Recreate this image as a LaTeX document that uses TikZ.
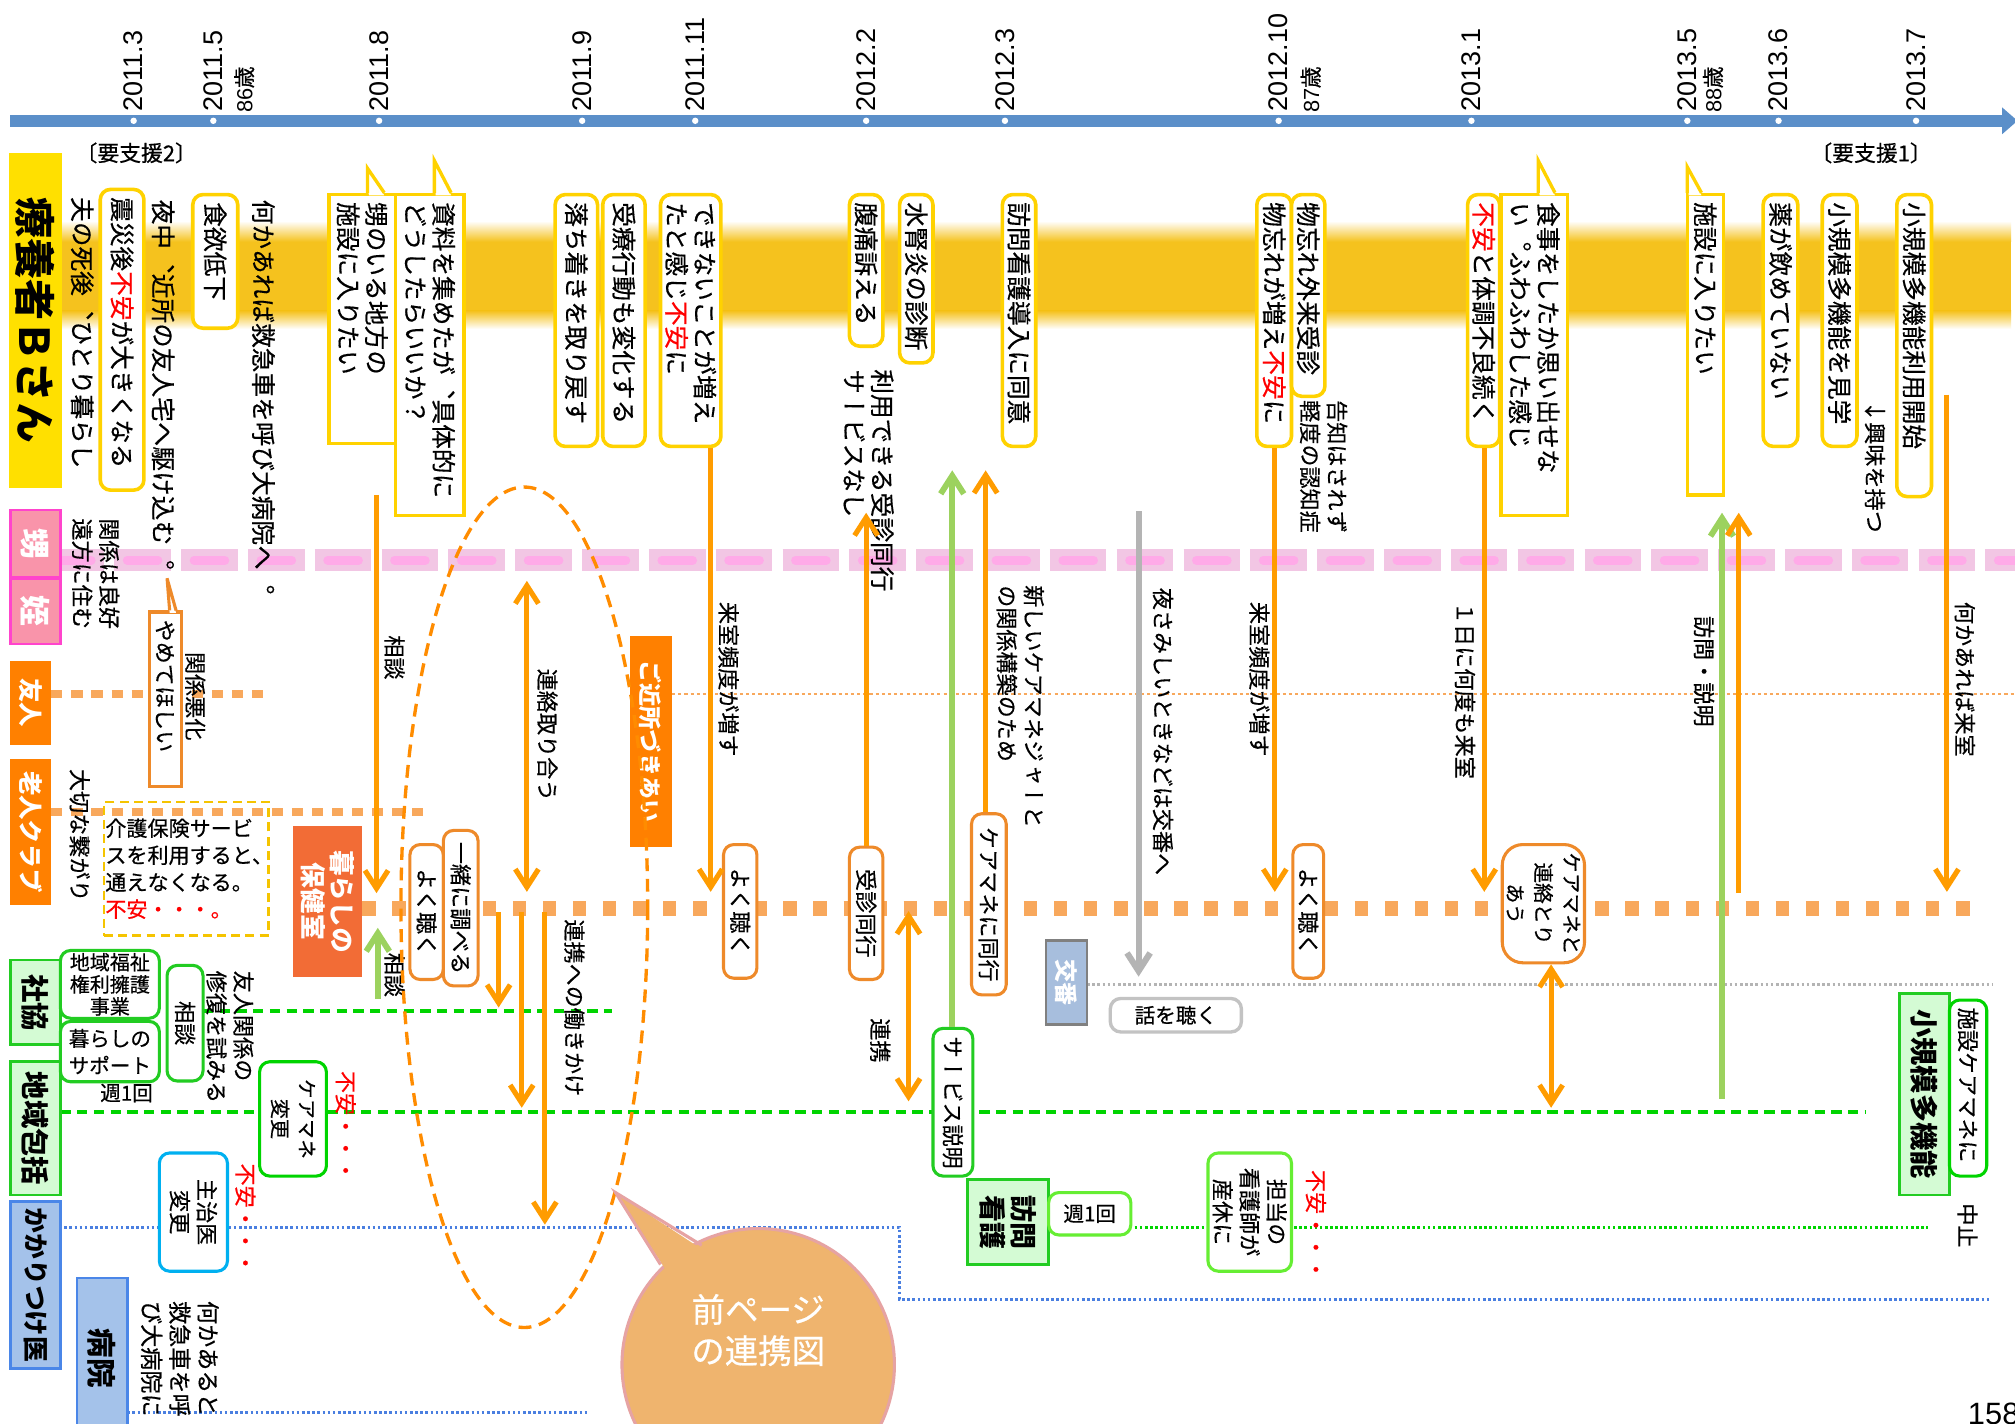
\documentclass[tikz,border=0pt]{standalone}
\usepackage{fontspec}
\usepackage{xcolor}
\usepackage{tikz}
\usetikzlibrary{arrows.meta, positioning}
\setmainfont{Noto Sans CJK JP}[UprightFeatures={FakeBold=0.5}]
\newfontfamily\vjp[Vertical=RotatedGlyphs, UprightFeatures={FakeBold=0.5}]{Noto Sans CJK JP}
\newfontfamily\dtfont{Liberation Sans}

\definecolor{tlblue}{HTML}{5B8FC9}
\definecolor{band}{HTML}{F5C21E}
\definecolor{ybord}{HTML}{FFD200}
\definecolor{yfill}{HTML}{FFE000}
\definecolor{pkfill}{HTML}{F994AA}
\definecolor{pkbord}{HTML}{FF44CC}
\definecolor{pkcore}{HTML}{FFAAE8}
\definecolor{pkglow}{HTML}{F2C6E4}
\definecolor{orlab}{HTML}{FF8000}
\definecolor{arr}{HTML}{FF9C00}
\definecolor{odot}{HTML}{F8A85C}
\definecolor{obord}{HTML}{EE8A2A}
\definecolor{hokencol}{HTML}{F26C36}
\definecolor{gline}{HTML}{00D400}
\definecolor{gbord}{HTML}{22CC22}
\definecolor{gfill}{HTML}{D4FBD4}
\definecolor{garr}{HTML}{9CD25E}
\definecolor{lgbord}{HTML}{66EE33}
\definecolor{bline}{HTML}{4A7FE0}
\definecolor{bfill}{HTML}{A4C2EA}
\definecolor{bbord}{HTML}{4A86E8}
\definecolor{cyanb}{HTML}{00B0F0}
\definecolor{kobanfill}{HTML}{A7BEDD}
\definecolor{grayarr}{HTML}{B4B4B4}
\definecolor{bubfill}{HTML}{EFB46E}
\definecolor{bubbord}{HTML}{E6A3A3}
\definecolor{ringcol}{HTML}{FF8C00}
\definecolor{dashy}{HTML}{F5C400}

\tikzstyle{vt}      = [rotate=-90, anchor=west, align=left, inner xsep=2pt, inner ysep=1pt, font=\vjp\fontsize{8.6}{10.5}\selectfont]
\tikzstyle{vbig}    = [vt, font=\vjp\fontsize{9.6}{11}\selectfont]
\tikzstyle{ybox}    = [vbig, draw=ybord, line width=1.4pt, rounded corners=4pt, fill=white, inner xsep=3pt]
\tikzstyle{ycall}   = [vbig, draw=ybord, line width=1.3pt, fill=white, inner xsep=3pt]
\tikzstyle{obox}    = [vt, draw=obord, line width=1.2pt, rounded corners=4pt, fill=white, inner xsep=3pt, align=center]
\tikzstyle{gbox}    = [vt, draw=gbord, line width=1.2pt, rounded corners=4pt, fill=white, inner xsep=3pt, align=center]
\tikzstyle{cat}     = [rotate=-90, anchor=center, align=center, inner sep=0pt, line width=1pt]
\tikzstyle{hgbox}   = [draw=gbord, line width=1.2pt, rounded corners=4pt, fill=white, align=center, inner sep=1pt]
\tikzstyle{datelab} = [rotate=90, anchor=west, inner sep=0pt, font=\dtfont\fontsize{10.5}{12}\selectfont]
\tikzstyle{oarrow}  = [draw=arr, line width=2pt, -{Straight Barb[length=7pt,width=9pt]}]
\tikzstyle{oboth}   = [oarrow, {Straight Barb[length=7pt,width=9pt]}-{Straight Barb[length=7pt,width=9pt]}]
\tikzstyle{garrow}  = [oarrow, draw=garr, line width=2.3pt]
\tikzstyle{grarrow} = [oarrow, draw=grayarr, line width=2.4pt]
\tikzstyle{pinkglow} = [draw=pkglow, line width=8.5pt, dash pattern=on 22pt off 4pt, dash phase=5pt]
\tikzstyle{pinkcore} = [draw=pkcore, line width=3.4pt, dash pattern=on 12pt off 14pt, line cap=round]
\tikzstyle{sqdot}   = [draw=odot, line width=3.3pt, dash pattern=on 4.3pt off 3.5pt]
\tikzstyle{bigdot}  = [draw=odot, line width=5.8pt, dash pattern=on 5.2pt off 6.5pt]
\tikzstyle{fdot}    = [draw=odot, line width=1pt, dash pattern=on 1.2pt off 1.2pt]
\tikzstyle{gdash}   = [draw=gline, line width=1.5pt, dash pattern=on 4pt off 2.5pt]
\tikzstyle{bdot}    = [draw=bline, line width=1.2pt, dash pattern=on 1pt off 1pt]
\tikzstyle{grdot}   = [draw=grayarr, line width=1.2pt, dash pattern=on 1pt off 1pt]
\tikzstyle{gdot}    = [draw=gline, line width=1.2pt, dash pattern=on 1pt off 1pt]
\tikzstyle{ringline} = [draw=ringcol, line width=1.3pt, dash pattern=on 5pt off 3pt]

\begin{document}
\begin{tikzpicture}[x=0.5pt, y=-0.5pt]
\useasboundingbox (0,0) rectangle (1568,1108);
\fill[white] (0,0) rectangle (1568,1108);

\coordinate (t0) at (8,94);
\coordinate (t1) at (1570,94);
\draw[tlblue, line width=4.6pt, -{Triangle[length=6pt,width=10pt]}] (t0) -- (t1);
\foreach \x/\d in {104/2011.3, 166/2011.5, 295/2011.8, 453/2011.9, 541/2011.11, 674/2012.2, 782/2012.3, 995/2012.10, 1145/2013.1, 1313/2013.5, 1384/2013.6, 1491/2013.7} {
  \fill[white] (\x,94) circle (2.5);
  \node (d\x) [datelab] at (\x,87) {\d};
}
\node (age86) [datelab, font=\fontsize{8.5}{9}\selectfont] at (190,88) {{\dtfont 86}歳};
\node (age87) [datelab, font=\fontsize{8.5}{9}\selectfont] at (1020,88) {{\dtfont 87}歳};
\node (age88) [datelab, font=\fontsize{8.5}{9}\selectfont] at (1333,88) {{\dtfont 88}歳};
\node (yos2) [font=\fontsize{8.5}{9}\selectfont] at (106,119) {〔要支援2〕};
\node (yos1) [font=\fontsize{8.5}{9}\selectfont] at (1456,119) {〔要支援1〕};

\shade[top color=white, bottom color=band] (47,172) rectangle (1565,188);
\fill[band] (47,188) rectangle (1565,242);
\shade[top color=band, bottom color=white] (47,242) rectangle (1565,256);

\draw[pinkglow] (47,436) -- (1568,436);
\draw[pinkcore] (47,436) -- (1568,436);
\draw[sqdot] (40,540) -- (208,540);
\draw[fdot] (523,540) -- (1568,540);
\draw[sqdot] (40,632) -- (330,632);
\draw[bigdot] (282,707) -- (1545,707);
\draw[gdash] (158,787) -- (476,787);
\draw[gdash] (47,865) -- (1452,865);
\draw[grdot] (846,766) -- (1551,766);
\draw[bdot] (50,955) -- (700,955) -- (700,1011) -- (1550,1011);
\draw[gdot] (883,955) -- (1500,955);
\draw[bdot] (99,1099) -- (457,1099);

\node (ryo) [cat, fill=yfill, minimum width=130.5pt, minimum height=20.5pt, font=\vjp\bfseries\fontsize{16}{18}\selectfont] at (27.5,249.5) {療養者Ｂさん};
\node (oilab) [cat, fill=pkfill, draw=pkbord, text=white, minimum width=26pt, minimum height=19.5pt, font=\vjp\bfseries\fontsize{12}{13}\selectfont] at (27.5,423) {甥};
\node (meilab) [cat, fill=pkfill, draw=pkbord, text=white, minimum width=25.5pt, minimum height=19.5pt, font=\vjp\bfseries\fontsize{12}{13}\selectfont] at (27.5,475.5) {姪};
\node (yulab) [cat, fill=orlab, text=white, minimum width=33pt, minimum height=16pt, font=\vjp\bfseries\fontsize{9.5}{11}\selectfont] at (24,547) {友人};
\node (clublab) [cat, fill=orlab, text=white, minimum width=56.5pt, minimum height=16pt, font=\vjp\bfseries\fontsize{9.5}{11}\selectfont] at (24,647.5) {老人クラブ};
\node (shakyolab) [cat, fill=gfill, draw=gbord, minimum width=33pt, minimum height=19.5pt, font=\vjp\bfseries\fontsize{11}{12}\selectfont] at (27.5,780) {社協};
\node (hokatsulab) [cat, fill=gfill, draw=gbord, minimum width=52pt, minimum height=19.5pt, font=\vjp\bfseries\fontsize{11}{12}\selectfont] at (27.5,878) {地域包括};
\node (kakarilab) [cat, fill=bfill, draw=bbord, minimum width=65pt, minimum height=19.5pt, font=\vjp\bfseries\fontsize{10}{11}\selectfont] at (27.5,1000) {かかりつけ医};
\node (byoinlab) [cat, fill=bfill, draw=bbord, minimum width=62.5pt, minimum height=19.5pt, font=\vjp\bfseries\fontsize{11.5}{12}\selectfont] at (79.5,1057) {病院};
\node (gokinjo) [cat, fill=orlab, text=white, minimum width=82pt, minimum height=16.5pt, font=\vjp\bfseries\fontsize{9}{10}\selectfont] at (506.5,577) {ご近所づきあい};
\node (hoken) [cat, fill=hokencol, text=white, minimum width=58.5pt, minimum height=27pt, font=\vjp\bfseries\fontsize{10}{11.5}\selectfont] at (255,701.5) {暮らしの\\保健室};
\node (koban) [cat, fill=kobanfill, draw=gray, text=white, minimum width=32.5pt, minimum height=16pt, font=\vjp\bfseries\fontsize{9}{10}\selectfont] at (830,764.5) {交番};
\node (shokibo) [cat, fill=gfill, draw=gbord, minimum width=78.5pt, minimum height=19.5pt, font=\vjp\bfseries\fontsize{11}{12}\selectfont] at (1497.5,851.5) {小規模多機能};
\node (houkanlab) [cat, fill=gfill, draw=gbord, minimum width=33pt, minimum height=31.5pt, font=\vjp\bfseries\fontsize{10.5}{12}\selectfont] at (784.5,951) {訪問\\看護};

\node (otto)   [vbig] at (64,149) {夫の死後、ひとり暮らし};
\node (shin)   [ybox, text width=111pt, minimum height=17pt] at (95,146) {震災後\textcolor{red}{不安}が大きくなる};
\node (yonaka) [vbig] at (127,151) {夜中、近所の友人宅へ駆け込む。};
\node (shoku)  [ybox, text width=46pt, minimum height=17.5pt] at (167.5,150) {食欲低下};
\node (nanika) [vbig] at (205,151) {何かあれば救急車を呼び大病院へ。};
\node (oi)     [ycall, text width=91pt, minimum height=26pt] at (282,150) {甥のいる地方の\\施設に入りたい};
\node (shiryo) [ycall, text width=119pt, minimum height=26.5pt] at (334.5,150) {資料を集めたが、具体的に\\どうしたらいいか？};
\node (ochi)   [ybox, text width=92pt, minimum height=16.5pt] at (448.5,150) {落ち着きを取り戻す};
\node (juryo)  [ybox, text width=92pt, minimum height=16.5pt] at (485.5,150) {受療行動も変化する};
\node (deki)   [ybox, text width=92pt, minimum height=23.5pt] at (537.5,150) {できないことが増え\\たと感じ\textcolor{red}{不安}に};
\node (fuku)   [ybox, text width=53pt, minimum height=13pt] at (674,150) {腹痛訴える};
\node (sui)    [ybox, text width=59.5pt, minimum height=13pt] at (713,150) {水腎炎の診断};
\node (kango)  [ybox, text width=92pt, minimum height=13pt] at (793,150) {訪問看護導入に同意};
\node (mono1)  [ybox, text width=92pt, minimum height=13.5pt] at (991.5,150) {物忘れが増え\textcolor{red}{不安}に};
\node (mono2)  [ybox, text width=72.5pt, minimum height=13pt] at (1018,150) {物忘れ外来受診};
\node (taicho) [ybox, text width=92pt, minimum height=12.5pt] at (1154.5,150) {\textcolor{red}{不安}と体調不良続く};
\node (shokuji) [ycall, text width=119pt, minimum height=26pt] at (1194,150) {食事をしたか思い出せな\\い。ふわふわした感じ};
\node (shisetsu) [ycall, text width=111pt, minimum height=14pt] at (1327,150) {施設に入りたい};
\node (kusuri)  [ybox, text width=92pt, minimum height=13.5pt] at (1385.5,150) {薬が飲めていない};
\node (kengaku) [ybox, text width=92pt, minimum height=13.5pt] at (1431.5,150) {小規模多機能を見学};
\node (kaishi)  [ybox, text width=111.5pt, minimum height=13.5pt] at (1489.5,150) {小規模多機能利用開始};

\node (riyou) [vbig] at (676,283) {利用できる受診同行\\サービスなし};
\node (keido) [vt] at (1030,307) {告知はされず\\軽度の認知症};
\node (kyomi) [vt] at (1459,307) {↓興味を持つ};
\node (enpo)  [vt] at (74.5,399) {関係は良好\\遠方に住む};
\node (akka)  [vt] at (152,503) {関係悪化};
\node (taisetsu) [vt] at (62,594) {大切な繋がり};
\node (soudan1) [vt] at (307,490) {相談};
\node (soudan2) [vt] at (307,737) {相談};
\node (renraku) [vt] at (426,516) {連絡取り合う};
\node (hataraki) [vt] at (447,711) {連携への働きかけ};
\node (raishitsu1) [vt] at (567,464) {来室頻度が増す};
\node (renkei) [vt] at (685,788) {連携};
\node (atarashii) [vt] at (794,451) {新しいケアマネジャーと\\の関係構築のため};
\node (yoru) [vt] at (905,453) {夜さみしいときなどは交番へ};
\node (raishitsu2) [vt] at (980,464) {来室頻度が増す};
\node (ichinichi) [vt] at (1140,464) {１日に何度も来室};
\node (houmon) [vt] at (1326,475) {訪問・説明};
\node (nanika2) [vt] at (1529,464) {何かあれば来室};
\node (chushi) [vt] at (1531,932) {中止};
\node (yuujin) [vt] at (179,751) {友人関係の\\修復を試みる};
\node (fuan1) [vt, text=red] at (269,829) {不安・・・};
\node (fuan2) [vt, text=red] at (191,901) {不安・・・};
\node (fuan3) [vt, text=red] at (1024,906) {不安・・・};
\node (kyukyu) [vt, font=\vjp\fontsize{9}{11}\selectfont] at (140,1008) {何かあると\\救急車を呼\\び大病院に};

\node (yamete) [vt, draw=obord, line width=1.2pt, fill=white, text width=62pt, minimum height=12.5pt, inner xsep=3pt] at (128.5,475) {やめてほしい};
\node (yoku1)  [obox, text width=46.5pt, minimum height=13pt] at (332,656) {よく聴く};
\node (issho)  [obox, text width=54.5pt, minimum height=13.5pt] at (358.5,645) {一緒に調べる};
\node (yoku2)  [obox, text width=46pt, minimum height=13pt] at (576,656) {よく聴く};
\node (jushin) [obox, text width=45.5pt, minimum height=13pt] at (674,658) {受診同行};
\node (cmdoukou) [obox, text width=64.5pt, minimum height=13.5pt] at (769.5,632) {ケアマネに同行};
\node (yoku3)  [obox, text width=46pt, minimum height=12pt] at (1018,656) {よく聴く};
\node (cmrenraku) [obox, rounded corners=8pt, text width=40pt, minimum height=32pt, font=\vjp\fontsize{8}{11}\selectfont] at (1201,656) {ケアマネと\\連絡とり\\あう};

\node (soudanbox) [gbox, text width=39pt, minimum height=14pt] at (144,750) {相談};
\node (kemane) [gbox, draw=gline, text width=38.5pt, minimum height=26pt, font=\vjp\fontsize{7.8}{10.5}\selectfont] at (228,825) {ケアマネ\\変更};
\node (shujii) [gbox, draw=cyanb, text width=40pt, minimum height=26.5pt] at (150.5,896) {主治医\\変更};
\node (service) [gbox, text width=51.5pt, minimum height=15.5pt] at (741.5,799) {サービス説明};
\node (tantou) [gbox, draw=lgbord, text width=40pt, minimum height=32.5pt] at (972.5,896) {担当の\\看護師が\\産休に};
\node (shisetsucm) [gbox, draw=gline, align=left, text width=62.5pt, minimum height=14.5pt] at (1531.5,777) {施設ケアマネに};

\node (fukushi) [hgbox, minimum width=38.5pt, minimum height=25pt, font=\fontsize{7.8}{8.6}\selectfont] at (85.5,766) {地域福祉\\権利擁護\\事業};
\node (support) [hgbox, below=0pt of fukushi, minimum width=38.5pt, minimum height=23.5pt, font=\fontsize{8}{10.5}\selectfont] {暮らしの\\サポート};
\node (shuu1) [below=0pt of support, xshift=6.5pt, inner sep=0pt, font=\fontsize{8}{9}\selectfont] {週1回};
\node (kaigo) [draw=dashy, line width=0.9pt, dash pattern=on 3.5pt off 2pt, text width=63pt, align=left, minimum height=52pt, inner xsep=0.5pt, font=\fontsize{8.2}{10.5}\selectfont] at (145,676) {介護保険サービ\\スを利用すると、\\通えなくなる。\\\textcolor{red}{不安・・・。}};
\node (hanashi) [draw=grayarr!80, line width=1.3pt, rounded corners=4pt, minimum width=51pt, minimum height=13pt, inner sep=1pt, font=\fontsize{8}{9}\selectfont] at (915,790) {話を聴く};
\node (shuu2) [hgbox, draw=lgbord, minimum width=32pt, minimum height=16.5pt, font=\fontsize{8}{9}\selectfont] at (848,944.5) {週1回};
\node (page) [anchor=west, inner sep=0pt, font=\dtfont\fontsize{12}{13}\selectfont] at (1531,1100) {158};

\fill[white] (287,152) -- (286,131) -- (299,152) -- cycle;
\draw[ybord, line width=1.3pt] (286,150) -- (286,131) -- (299,150);
\fill[white] (339,152) -- (338,125) -- (351,152) -- cycle;
\draw[ybord, line width=1.3pt] (338,150) -- (338,125) -- (351,150);
\fill[white] (1198,152) -- (1197,125) -- (1210,152) -- cycle;
\draw[ybord, line width=1.3pt] (1197,150) -- (1197,125) -- (1210,150);
\fill[white] (1314,152) -- (1313,130) -- (1324,152) -- cycle;
\draw[ybord, line width=1.3pt] (1313,150) -- (1313,130) -- (1324,150);
\fill[white] (132,477) -- (130,450) -- (137,477) -- cycle;
\draw[obord, line width=1.2pt] (132,475) -- (130,450) -- (137,475);

\coordinate (a1s) at (293,385);   \coordinate (a1e) at (293,695);
\coordinate (g1s) at (294,777);   \coordinate (g1e) at (294,722);
\coordinate (a3s) at (410,452);   \coordinate (a3e) at (410,694);
\coordinate (a4s) at (388,710);   \coordinate (a4e) at (388,784);
\coordinate (a5s) at (406,710);   \coordinate (a5e) at (406,862);
\coordinate (a6s) at (424,710);   \coordinate (a6e) at (424,953);
\coordinate (a7e) at (553,694);
\coordinate (a8e) at (674,399);
\coordinate (a9s) at (707,709);   \coordinate (a9e) at (707,857);
\coordinate (g2e) at (741,366);
\coordinate (a11e) at (767,366);
\coordinate (grs) at (886,398);   \coordinate (gre) at (886,760);
\coordinate (a13e) at (992,694);
\coordinate (a14e) at (1155,694);
\coordinate (a15e) at (1207,862);
\coordinate (g3s) at (1340,855);  \coordinate (g3e) at (1340,399);
\coordinate (a17s) at (1353,695); \coordinate (a17e) at (1353,399);
\coordinate (a18s) at (1515,307); \coordinate (a18e) at (1515,694);

\draw[oarrow] (a1s) -- (a1e);
\draw[garrow] (g1s) -- (g1e);
\draw[oboth] (a3s) -- (a3e);
\draw[oarrow] (a4s) -- (a4e);
\draw[oarrow] (a5s) -- (a5e);
\draw[oarrow] (a6s) -- (a6e);
\draw[oarrow] (deki.east -| a7e) -- (a7e);
\draw[oarrow] (jushin.west) -- (a8e);
\draw[oboth] (a9s) -- (a9e);
\draw[garrow] (service.west -| g2e) -- (g2e);
\draw[oarrow] (cmdoukou.west -| a11e) -- (a11e);
\draw[grarrow] (grs) -- (gre);
\draw[oarrow] (mono1.east -| a13e) -- (a13e);
\draw[oarrow] (taicho.east -| a14e) -- (a14e);
\draw[oboth] (cmrenraku.east -| a15e) -- (a15e);
\draw[garrow] (g3s) -- (g3e);
\draw[oarrow] (a17s) -- (a17e);
\draw[oarrow] (a18s) -- (a18e);

\draw[ringline] (408,706) ellipse (96 and 327);

\draw[draw=bubbord, fill=bubfill, line width=1.2pt] (590,1062) circle (106);
\fill[bubfill] (518,988) -- (479,928) -- (549,974) -- cycle;
\draw[bubbord, line width=1.2pt] (514,984) -- (479,928) -- (546,969);
\node (zen) [text=white, align=center, font=\fontsize{13}{16}\selectfont] at (590,1035) {前ページ\\の連携図};
\end{tikzpicture}
\end{document}
